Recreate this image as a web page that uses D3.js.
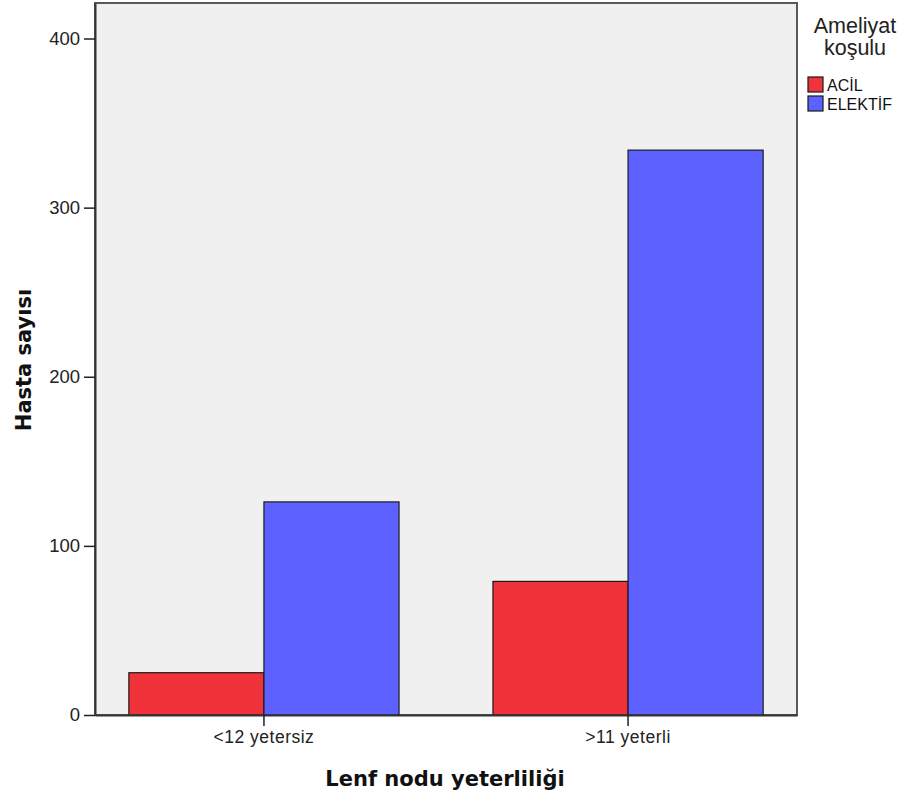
<!DOCTYPE html>
<html>
<head>
<meta charset="utf-8">
<script src="https://cdn.jsdelivr.net/npm/d3@7/dist/d3.min.js"></script>
<style>
  html, body { margin: 0; padding: 0; background: #ffffff; }
  svg { display: block; }
</style>
</head>
<body>
<svg id="chart" width="903" height="802"></svg>
<script>
// ---- data ----
const categories = ["<12 yetersiz", ">11 yeterli"];
const seriesNames = ["ACİL", "ELEKTİF"];
const acilValues = [25, 79];
const elektifValues = [126, 334];
const yTicks = [0, 100, 200, 300, 400];
const yMax = 421;
const seriesColors = ["#f0323a", "#5c61ff"];
const xTitle = "Lenf nodu yeterliliği";
const yTitle = "Hasta sayısı";
const legendTitle = ["Ameliyat", "koşulu"];

const seriesValues = [acilValues, elektifValues];

const svg = d3.select("#chart");
const plot = { left: 95, right: 797, top: 3, bottom: 715 };

const x = d3.scaleBand()
  .domain(categories)
  .range([plot.left, plot.right])
  .paddingInner(0.258)
  .paddingOuter(0.093);

const xs = d3.scaleBand()
  .domain(seriesNames)
  .range([0, x.bandwidth()])
  .padding(0);

const y = d3.scaleLinear()
  .domain([0, yMax])
  .range([plot.bottom, plot.top]);

// plot background and frame
svg.append("rect")
  .attr("x", plot.left).attr("y", plot.top)
  .attr("width", plot.right - plot.left)
  .attr("height", plot.bottom - plot.top)
  .attr("fill", "#f0f0f0")
  .attr("stroke", "#5a5a5a")
  .attr("stroke-width", 2);

// bars
const rows = [];
categories.forEach((c, i) => {
  seriesNames.forEach((s, j) => {
    rows.push({ cat: c, series: s, value: seriesValues[j][i], color: seriesColors[j] });
  });
});

svg.append("g").selectAll("rect")
  .data(rows)
  .join("rect")
  .attr("x", d => x(d.cat) + xs(d.series))
  .attr("y", d => y(d.value))
  .attr("width", xs.bandwidth())
  .attr("height", d => y(0) - y(d.value))
  .attr("fill", d => d.color)
  .attr("stroke", "#1a1a1a")
  .attr("stroke-width", 1.2);

// y axis
const yAxis = d3.axisLeft(y).tickValues(yTicks).tickSize(11).tickSizeOuter(0).tickPadding(4).tickFormat(d3.format("d"));
const gy = svg.append("g")
  .attr("transform", `translate(${plot.left},0)`)
  .call(yAxis);
gy.select(".domain").attr("stroke", "#333").attr("stroke-width", 2);
gy.selectAll(".tick line").attr("stroke", "#222").attr("stroke-width", 1.5);
gy.selectAll(".tick text")
  .attr("font-family", "'Liberation Sans', Arial, sans-serif")
  .attr("font-size", 18.5)
  .attr("fill", "#222");

// x axis
const xAxis = d3.axisBottom(x).tickSize(11).tickSizeOuter(0).tickPadding(5);
const gx = svg.append("g")
  .attr("transform", `translate(0,${plot.bottom})`)
  .call(xAxis);
gx.select(".domain").attr("stroke", "#333").attr("stroke-width", 2);
gx.selectAll(".tick line").attr("stroke", "#222").attr("stroke-width", 1.5);
gx.selectAll(".tick text")
  .attr("font-family", "'Liberation Sans', Arial, sans-serif")
  .attr("font-size", 17.5)
  .attr("letter-spacing", "0.5px")
  .attr("fill", "#222");

// axis titles
svg.append("text")
  .attr("x", (plot.left + plot.right) / 2 - 1)
  .attr("y", 786)
  .attr("text-anchor", "middle")
  .attr("font-family", "'DejaVu Sans', sans-serif")
  .attr("font-weight", "bold")
  .attr("font-size", 21)
  .attr("fill", "#111")
  .text(xTitle);

svg.append("text")
  .attr("transform", "translate(31,360) rotate(-90)")
  .attr("text-anchor", "middle")
  .attr("font-family", "'DejaVu Sans', sans-serif")
  .attr("font-weight", "bold")
  .attr("font-size", 21)
  .attr("fill", "#111")
  .text(yTitle);

// legend
const lg = svg.append("g");
lg.selectAll("text.lt")
  .data(legendTitle)
  .join("text")
  .attr("class", "lt")
  .attr("x", 855)
  .attr("y", (d, i) => 33 + i * 22)
  .attr("text-anchor", "middle")
  .attr("font-family", "'Liberation Sans', Arial, sans-serif")
  .attr("font-size", 21.5)
  .attr("fill", "#222")
  .text(d => d);

const li = lg.selectAll("g.li")
  .data(seriesNames)
  .join("g")
  .attr("class", "li")
  .attr("transform", (d, i) => `translate(808,${77 + i * 19})`);
li.append("rect")
  .attr("width", 15).attr("height", 15)
  .attr("fill", (d, i) => seriesColors[i])
  .attr("stroke", "#1a1a1a")
  .attr("stroke-width", 1.2);
li.append("text")
  .attr("x", 19)
  .attr("y", 14)
  .attr("font-family", "'Liberation Sans', Arial, sans-serif")
  .attr("font-size", 16)
  .attr("fill", "#111")
  .text(d => d);
</script>
</body>
</html>
